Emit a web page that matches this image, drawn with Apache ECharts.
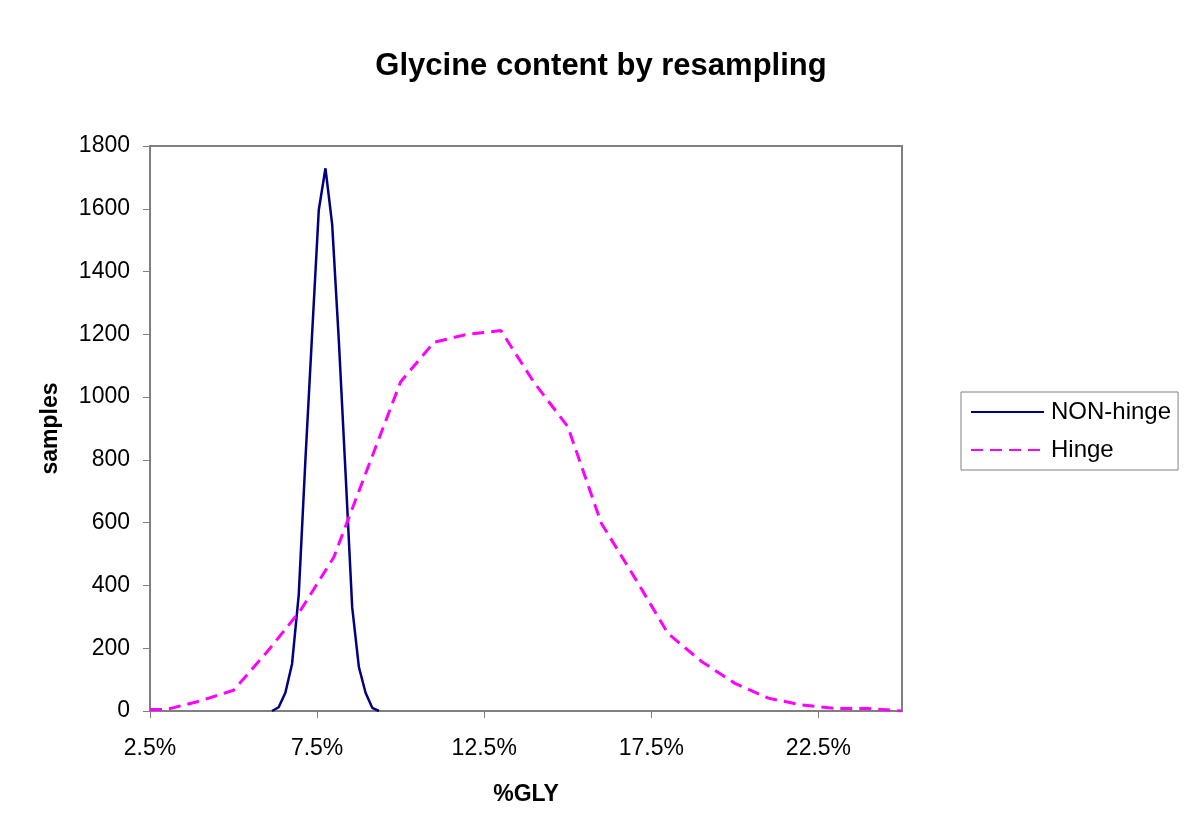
<!DOCTYPE html>
<html>
<head>
<meta charset="utf-8">
<script src="https://cdn.jsdelivr.net/npm/echarts@6/dist/echarts.min.js"></script>
<style>
html,body{margin:0;padding:0;background:#fff;}
#chart{width:1200px;height:815px;}
</style>
</head>
<body>
<div id="chart"></div>
<script>
// ---- data ----
var titleText = 'Glycine content by resampling';
var xAxisName = '%GLY';
var yAxisName = 'samples';
var seriesNames = ['NON-hinge', 'Hinge'];

var nonHingeX = [6.15, 6.35, 6.55, 6.75, 6.95, 7.15, 7.35, 7.55, 7.75, 7.95, 8.15, 8.35, 8.55, 8.75, 8.95, 9.15, 9.35];
var nonHingeY = [0, 12, 58, 150, 370, 800, 1200, 1596, 1729, 1551, 1180, 760, 330, 140, 58, 10, 0];

var hingeX = [2.5, 3, 4, 5, 6, 7, 8, 9, 10, 11, 12, 13, 14, 15, 16, 17, 18, 19, 20, 21, 22, 23, 24, 25];
var hingeY = [5, 5, 32, 66, 188, 320, 490, 770, 1049, 1175, 1200, 1212, 1045, 906, 599, 425, 247, 158, 88, 41, 19, 8, 8, 0];

var xMin = 2.5, xMax = 25, xStep = 5;
var yMin = 0, yMax = 1800, yStep = 200;

function pairs(xs, ys) { return xs.map(function (x, i) { return [x, ys[i]]; }); }

var font = '"Liberation Sans", Arial, sans-serif';
var gray = '#808080';

var chart = echarts.init(document.getElementById('chart'), null, {renderer: 'canvas'});
chart.setOption({
  backgroundColor: '#ffffff',
  animation: false,
  title: {
    text: titleText,
    left: 596, top: 46, textAlign: 'center',
    textStyle: {fontFamily: font, fontSize: 31, fontWeight: 'bold', color: '#000'}
  },
  grid: {
    left: 150, top: 146, width: 752, height: 565,
    show: true, borderColor: gray, borderWidth: 2, backgroundColor: 'transparent'
  },
  legend: {
    orient: 'vertical',
    left: 961, top: 392,
    padding: [8, 7, 8, 9],
    itemWidth: 73, itemHeight: 20, itemGap: 14,
    backgroundColor: '#fff', borderColor: gray, borderWidth: 1,
    itemStyle: {opacity: 0},
    textStyle: {fontFamily: font, fontSize: 24, color: '#000', padding: [0, 0, 0, 2]},
    data: seriesNames
  },
  xAxis: {
    type: 'value', min: xMin, max: xMax, interval: xStep,
    name: xAxisName, nameLocation: 'middle', nameGap: 72,
    nameTextStyle: {fontFamily: font, fontSize: 23, fontWeight: 'bold', color: '#000'},
    axisLine: {show: true, lineStyle: {color: gray, width: 2}},
    axisTick: {show: true, length: 7, lineStyle: {color: gray, width: 1}},
    splitLine: {show: false},
    axisLabel: {
      fontFamily: font, fontSize: 23, color: '#000', margin: 26, showMaxLabel: false,
      formatter: function (v) { return v.toFixed(1) + '%'; }
    }
  },
  yAxis: {
    type: 'value', min: yMin, max: yMax, interval: yStep,
    name: yAxisName, nameLocation: 'middle', nameGap: 88, nameRotate: 90,
    nameTextStyle: {fontFamily: font, fontSize: 23, fontWeight: 'bold', color: '#000'},
    axisLine: {show: true, lineStyle: {color: gray, width: 2}},
    axisTick: {show: true, length: 7, lineStyle: {color: gray, width: 1}},
    splitLine: {show: false},
    axisLabel: {
      fontFamily: font, fontSize: 23, color: '#000', margin: 20,
      formatter: function (v) { return String(v); }
    }
  },
  series: [
    {
      name: seriesNames[0], type: 'line', symbol: 'none',
      data: pairs(nonHingeX, nonHingeY),
      lineStyle: {color: '#000080', width: 2.5},
      itemStyle: {color: '#000080'}
    },
    {
      name: seriesNames[1], type: 'line', symbol: 'none',
      data: pairs(hingeX, hingeY),
      lineStyle: {color: '#ff00ff', width: 3, type: [12, 7]},
      itemStyle: {color: '#ff00ff'}
    }
  ]
});
</script>
</body>
</html>
